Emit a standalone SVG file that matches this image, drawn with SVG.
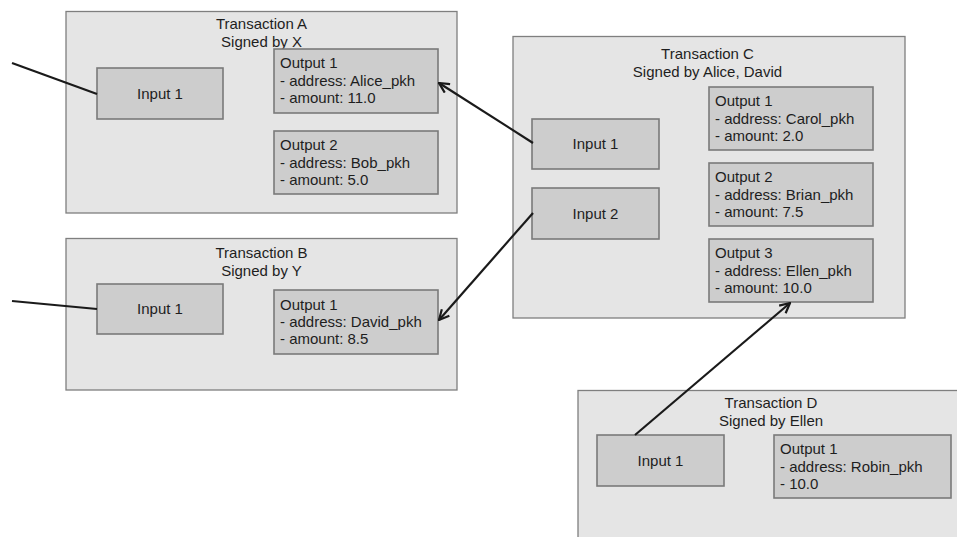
<svg xmlns="http://www.w3.org/2000/svg" width="957" height="537" viewBox="0 0 957 537">
<style>
.tx{fill:#e5e5e5;stroke:#7f7f7f;stroke-width:1.3}
.bx{fill:#cdcdcd;stroke:#7a7a7a;stroke-width:1.6}
text{font-family:"Liberation Sans",Arial,sans-serif;font-size:15px;fill:#1e1e1e}
.c{text-anchor:middle}
.ln{fill:none;stroke:#1a1a1a;stroke-width:2.2}
</style>
<defs>
<marker id="arr" viewBox="0 0 12 12" refX="11" refY="6" markerWidth="12" markerHeight="12" markerUnits="userSpaceOnUse" orient="auto">
<path d="M1,1 L11,6 L1,11" fill="none" stroke="#1a1a1a" stroke-width="2.2"/>
</marker>
</defs>
<rect x="0" y="0" width="957" height="537" fill="#ffffff"/>

<g id="txA">
<rect class="tx" x="66" y="11.5" width="391" height="201.5"/>
<text class="c" x="261.5" y="29">Transaction A</text>
<text class="c" x="261.5" y="46.5">Signed by X</text>
<g id="txA-in1"><rect class="bx" x="97" y="68" width="126" height="51"/><text class="c" x="160" y="98.5">Input 1</text></g>
<g id="txA-out1"><rect class="bx" x="274" y="49" width="164" height="64"/>
<text x="280" y="68">Output 1</text><text x="280" y="85.5">- address: Alice_pkh</text><text x="280" y="103">- amount: 11.0</text></g>
<g id="txA-out2"><rect class="bx" x="274" y="131" width="164" height="63"/>
<text x="280" y="150">Output 2</text><text x="280" y="167.5">- address: Bob_pkh</text><text x="280" y="185">- amount: 5.0</text></g>
</g>

<g id="txB">
<rect class="tx" x="66" y="238.5" width="391" height="151.5"/>
<text class="c" x="261.5" y="258">Transaction B</text>
<text class="c" x="261.5" y="275.5">Signed by Y</text>
<g id="txB-in1"><rect class="bx" x="97" y="284" width="126" height="50"/><text class="c" x="160" y="314">Input 1</text></g>
<g id="txB-out1"><rect class="bx" x="274" y="290" width="164" height="64"/>
<text x="280" y="310">Output 1</text><text x="280" y="327">- address: David_pkh</text><text x="280" y="344">- amount: 8.5</text></g>
</g>

<g id="txC">
<rect class="tx" x="513" y="36.5" width="392" height="281.5"/>
<text class="c" x="707.5" y="59">Transaction C</text>
<text class="c" x="707.5" y="76.5">Signed by Alice, David</text>
<g id="txC-in1"><rect class="bx" x="532" y="119" width="127" height="50"/><text class="c" x="595.5" y="149">Input 1</text></g>
<g id="txC-in2"><rect class="bx" x="532" y="188" width="127" height="51"/><text class="c" x="595.5" y="218.5">Input 2</text></g>
<g id="txC-out1"><rect class="bx" x="709" y="87" width="164" height="63"/>
<text x="715" y="106">Output 1</text><text x="715" y="123.5">- address: Carol_pkh</text><text x="715" y="141">- amount: 2.0</text></g>
<g id="txC-out2"><rect class="bx" x="709" y="163" width="164" height="63"/>
<text x="715" y="182">Output 2</text><text x="715" y="199.5">- address: Brian_pkh</text><text x="715" y="217">- amount: 7.5</text></g>
<g id="txC-out3"><rect class="bx" x="709" y="239" width="164" height="63"/>
<text x="715" y="258">Output 3</text><text x="715" y="275.5">- address: Ellen_pkh</text><text x="715" y="293">- amount: 10.0</text></g>
</g>

<g id="txD">
<rect class="tx" x="578" y="390.5" width="400" height="160"/>
<text class="c" x="771" y="408">Transaction D</text>
<text class="c" x="771" y="425.5">Signed by Ellen</text>
<g id="txD-in1"><rect class="bx" x="597" y="435" width="127" height="51"/><text class="c" x="660.5" y="465.5">Input 1</text></g>
<g id="txD-out1"><rect class="bx" x="774" y="435" width="177" height="63"/>
<text x="780" y="454">Output 1</text><text x="780" y="471.5">- address: Robin_pkh</text><text x="780" y="489">- 10.0</text></g>
</g>

<g id="connectors">
<path class="ln" d="M12,63 L97,94"/>
<path class="ln" d="M12,301 L97,309"/>
<path class="ln" d="M533,143 L439,83" marker-end="url(#arr)"/>
<path class="ln" d="M533,213 L439,320" marker-end="url(#arr)"/>
<path class="ln" d="M635,435 L790,303" marker-end="url(#arr)"/>
</g>
</svg>
